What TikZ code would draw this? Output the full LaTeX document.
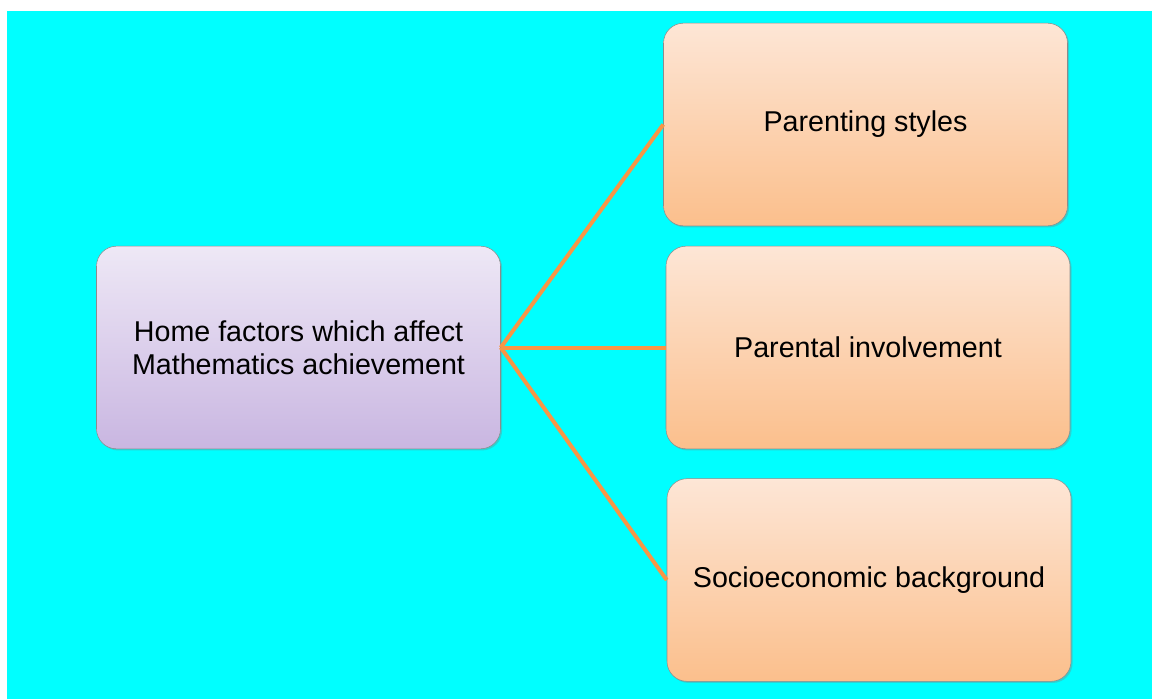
\documentclass[tikz,border=0pt]{standalone}
\usepackage{fontspec}
\setmainfont{Liberation Sans}
\usetikzlibrary{shadows}
\definecolor{bgcyan}{HTML}{00FFFF}
\definecolor{linkorange}{HTML}{F79646}
\definecolor{lilactop}{HTML}{EEE8F6}
\definecolor{lilacbot}{HTML}{C9B6E1}
\definecolor{peachtop}{HTML}{FDE6D6}
\definecolor{peachbot}{HTML}{FBBF8C}

\begin{document}
\begin{tikzpicture}[x = 0.75pt, y = -0.75pt,
  box/.style = {rectangle, rounded corners = 15pt, draw = black!45, line width = 0.4pt,
    minimum width = 303pt, minimum height = 152pt, align = center, font = \fontsize{21.5}{24.5}\selectfont,
    drop shadow = {shadow xshift = 1.2pt, shadow yshift = -1.2pt, opacity = 0.35}},
  rootbox/.style = {box, top color = lilactop, bottom color = lilacbot},
  factor/.style = {box, top color = peachtop, bottom color = peachbot},
  link/.style = {color = linkorange, line width = 3pt}]
\fill[white] (0, 0) rectangle (1152, 699);
\fill[bgcyan] (7, 11) rectangle (1152, 699);
\node[rootbox] (home) at (298.5, 347.5) {Home factors which affect\\Mathematics achievement};
\node[factor] (styles) at (865.5, 124.5) {Parenting styles};
\node[factor] (involve) at (868, 347.5) {Parental involvement};
\node[factor] (socio) at (869, 580) {Socioeconomic background};
% connectors
\draw[link] (home.east) -- (styles.west);
\draw[link] (home.east) -- (involve.west);
\draw[link] (home.east) -- (socio.west);
\end{tikzpicture}
\end{document}
